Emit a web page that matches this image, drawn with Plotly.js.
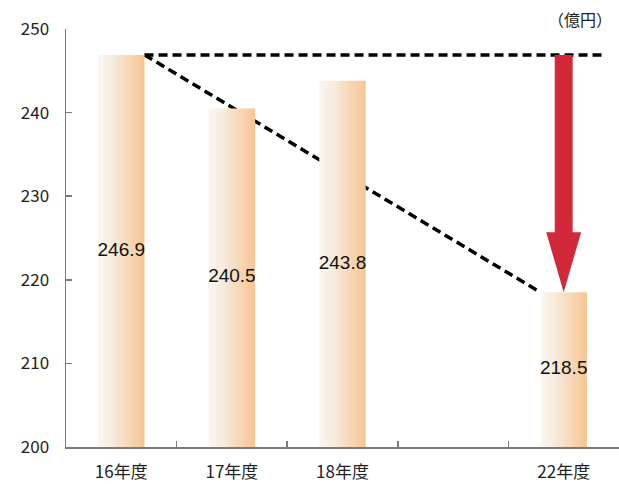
<!DOCTYPE html>
<html>
<head>
<meta charset="utf-8">
<script src="https://cdn.plot.ly/plotly-3.0.1.min.js"></script>
<style>html,body{margin:0;padding:0;background:#fff;}#chart{width:619px;height:484px;}</style>
</head>
<body>
<div id="chart"></div>
<script>
// ---- data ----
var categories = ['16年度', '17年度', '18年度', '', '22年度'];
var values = [246.9, 240.5, 243.8, null, 218.5];
var valueLabels = ['246.9', '240.5', '243.8', '', '218.5'];
var yTicks = [200, 210, 220, 230, 240, 250];
var unitLabel = '（億円）';

// ---- style ----
var base = 200;
var halfW = 0.21;
var lineEndX = 4.38;
var barScale = [[0, '#faf7f2'], [0.35, '#f6e9d9'], [1, '#f7c592']];
var dashStyle = {color: '#000', width: 3.5, dash: '9px,5px'};
var axisColor = '#7a7a7a';
var jpFont = '"Noto Sans CJK JP", "Noto Sans", sans-serif';

var idx = categories.map(function (c, i) { return i; });
var filled = idx.filter(function (i) { return values[i] !== null; });
var first = filled[0];
var last = filled[filled.length - 1];

var traces = [];
// dashed reference lines (drawn first, behind bars)
traces.push({
  type: 'scatter', mode: 'lines', x: [first + halfW, lineEndX],
  y: [values[first], values[first]], line: dashStyle, hoverinfo: 'skip', showlegend: false
});
traces.push({
  type: 'scatter', mode: 'lines', x: [first + halfW, last - halfW],
  y: [values[first], values[last]], line: dashStyle, hoverinfo: 'skip', showlegend: false
});
// gradient bars
filled.forEach(function (i) {
  traces.push({
    type: 'scatter', mode: 'lines',
    x: [i - halfW, i - halfW, i + halfW, i + halfW, i - halfW],
    y: [base, values[i], values[i], base, base],
    fill: 'toself', line: {width: 0, color: 'rgba(0,0,0,0)'},
    fillgradient: {type: 'horizontal', colorscale: barScale},
    hoverinfo: 'skip', showlegend: false
  });
});
// value labels in the middle of each bar
traces.push({
  type: 'scatter', mode: 'text',
  x: filled,
  y: filled.map(function (i) { return (base + values[i]) / 2; }),
  text: filled.map(function (i) { return valueLabels[i]; }),
  textposition: 'middle center',
  textfont: {family: '"Liberation Sans", Arial, sans-serif', size: 19, color: '#111'},
  hoverinfo: 'skip', showlegend: false
});

// arrow from first value down to last value
var arrowX = last, sw = 0.081, hw = 0.158, hl = 7.2;
var arrowTop = values[first], arrowTip = values[last];
var arrowPath = 'M ' + (arrowX - sw) + ',' + arrowTop + ' L ' + (arrowX + sw) + ',' + arrowTop +
  ' L ' + (arrowX + sw) + ',' + (arrowTip + hl) + ' L ' + (arrowX + hw) + ',' + (arrowTip + hl) +
  ' L ' + arrowX + ',' + arrowTip + ' L ' + (arrowX - hw) + ',' + (arrowTip + hl) +
  ' L ' + (arrowX - sw) + ',' + (arrowTip + hl) + ' Z';

var layout = {
  width: 619, height: 484,
  margin: {l: 66, r: 0, t: 29, b: 37},
  paper_bgcolor: '#fff', plot_bgcolor: '#fff',
  showlegend: false,
  font: {family: jpFont, color: '#222'},
  xaxis: {
    range: [-0.5, categories.length - 0.5],
    tickvals: idx, ticktext: categories,
    ticks: '', showgrid: false, zeroline: false,
    showline: true, linecolor: axisColor, linewidth: 1.5,
    tickfont: {family: jpFont, size: 17, color: '#222'},
    ticklabelstandoff: 9,
    minor: {tickvals: idx.slice(0, -1).map(function (i) { return i + 0.5; }),
            ticks: 'inside', ticklen: 6, tickcolor: axisColor, tickwidth: 1.5, showgrid: false},
    fixedrange: true
  },
  yaxis: {
    range: [200, 250], tickvals: yTicks,
    ticks: 'inside', ticklen: 6, tickcolor: axisColor, tickwidth: 1.5,
    showgrid: false, zeroline: false,
    showline: true, linecolor: axisColor, linewidth: 1.5,
    tickfont: {family: jpFont, size: 17, color: '#222'},
    ticklabelstandoff: 12,
    fixedrange: true
  },
  shapes: [{
    type: 'path', xref: 'x', yref: 'y', path: arrowPath,
    fillcolor: '#d22839', line: {width: 0}, layer: 'above'
  }],
  annotations: [{
    text: unitLabel, xref: 'paper', yref: 'paper', x: 1, y: 1,
    xanchor: 'right', yanchor: 'bottom', xshift: -5, yshift: -4, showarrow: false,
    font: {family: jpFont, size: 16, color: '#222'}
  }]
};

Plotly.newPlot('chart', traces, layout, {displayModeBar: false, staticPlot: true});
</script>
</body>
</html>
